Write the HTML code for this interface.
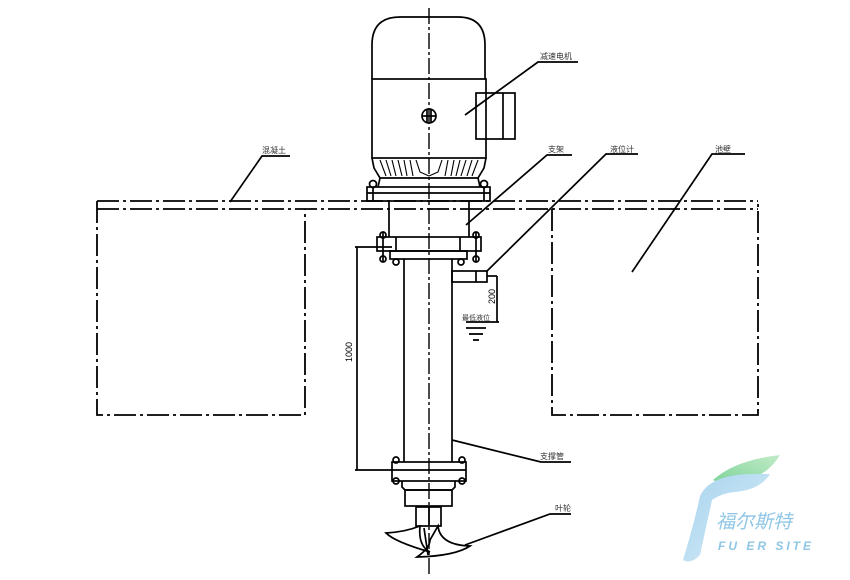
<!DOCTYPE html>
<html><head><meta charset="utf-8"><style>
html,body{margin:0;padding:0;background:#fff;}
svg{display:block;}
text{font-family:"Liberation Sans","Noto Sans CJK SC",sans-serif;}
</style></head><body>
<svg width="850" height="580" viewBox="0 0 850 580" xmlns="http://www.w3.org/2000/svg">
<defs>
<linearGradient id="bl" x1="0" y1="0" x2="1" y2="1"><stop offset="0" stop-color="#a9d4ee"/><stop offset="1" stop-color="#d6ecf8"/></linearGradient>
<linearGradient id="gr" x1="0" y1="1" x2="1" y2="0"><stop offset="0" stop-color="#7fd39a"/><stop offset="1" stop-color="#c2ecc8"/></linearGradient>
</defs>
<g fill="none" stroke="#000" stroke-width="1.7">
<g stroke-dasharray="22,4,3,4" stroke-width="1.8">
<line x1="97" y1="201" x2="758" y2="201"/>
<line x1="97" y1="209" x2="758" y2="209"/>
<polyline points="97,201 97,415 305,415 305,209"/>
<polyline points="552,209 552,415 758,415 758,201"/>
</g>
<line x1="429" y1="8" x2="429" y2="575" stroke-dasharray="16,3,3,3" stroke-width="1.4"/>
<path d="M372,79 L372,45 Q372,17 400,17 L458,17 Q485,17 485,45 L485,79"/>
<rect x="372" y="79" width="114" height="79"/>
<rect x="476" y="93" width="39" height="46"/>
<line x1="503" y1="93" x2="503" y2="139"/>
<circle cx="429" cy="116" r="7"/>
<line x1="422" y1="116" x2="436" y2="116"/><line x1="427" y1="110" x2="427" y2="122"/><line x1="431" y1="110" x2="431" y2="122"/>
<path d="M372,158 L374,168 L380,178 L478,178 L484,168 L486,158"/>
<g stroke-width="1.1">
<path d="M380,160 L386,176 M386,160 L391,176 M392,160 L396,176 M398,160 L402,176 M404,160 L407,176 M410,160 L413,176 M416,160 L420,172 L429,176 M442,160 L438,172 L429,176 M448,160 L445,176 M454,160 L451,176 M460,160 L456,176 M466,160 L461,176 M472,160 L467,176 M478,160 L472,176"/>
</g>
<rect x="367" y="187" width="123" height="14"/>
<line x1="367" y1="193" x2="490" y2="193"/>
<line x1="380" y1="178" x2="378" y2="187"/><line x1="478" y1="178" x2="480" y2="187"/>
<circle cx="373" cy="184" r="3.5"/><circle cx="484" cy="184" r="3.5"/>
<line x1="373" y1="187" x2="373" y2="201"/><line x1="484" y1="187" x2="484" y2="201"/>
<line x1="389" y1="201" x2="389" y2="237"/><line x1="469" y1="201" x2="469" y2="237"/>
<rect x="377" y="237" width="104" height="14"/>
<rect x="390" y="251" width="77" height="8"/>
<line x1="383" y1="232" x2="383" y2="262"/><line x1="476" y1="232" x2="476" y2="262"/>
<circle cx="383" cy="235" r="3"/><circle cx="476" cy="235" r="3"/>
<circle cx="383" cy="259" r="3"/><circle cx="476" cy="259" r="3"/>
<circle cx="396" cy="262" r="3"/><circle cx="461" cy="262" r="3"/>
<line x1="396" y1="237" x2="396" y2="251"/><line x1="460" y1="237" x2="460" y2="251"/>
<line x1="404" y1="259" x2="404" y2="462"/><line x1="452" y1="259" x2="452" y2="462"/>
<rect x="392" y="462" width="74" height="19"/>
<line x1="392" y1="470" x2="466" y2="470"/>
<circle cx="396" cy="460" r="3"/><circle cx="462" cy="460" r="3"/>
<circle cx="396" cy="481" r="3"/><circle cx="462" cy="481" r="3"/>
<path d="M402,481 L402,487 L405,490 L452,490 L455,487 L455,481"/>
<rect x="405" y="490" width="47" height="16"/>
<rect x="416" y="507" width="25" height="19"/>
<line x1="429" y1="507" x2="429" y2="526"/>
<path d="M420,526 Q405,532 386,533 Q395,542 430,552 Q418,546 420,526 Z"/>
<path d="M438,526 Q440,545 470,546 Q455,556 417,557 Q430,548 430,540 Z"/>
<line x1="424" y1="528" x2="428" y2="555"/>
<line x1="357" y1="247" x2="357" y2="470"/>
<line x1="355" y1="247" x2="392" y2="247"/>
<line x1="355" y1="470" x2="392" y2="470"/>
<rect x="452" y="271" width="35" height="11"/>
<line x1="476" y1="271" x2="476" y2="282"/>
<line x1="487" y1="276" x2="497" y2="276"/>
<line x1="497" y1="276" x2="497" y2="322"/>
<line x1="466" y1="322" x2="499" y2="322"/>
<line x1="466" y1="328" x2="486" y2="328" stroke-width="1.8"/>
<line x1="469" y1="334" x2="483" y2="334" stroke-width="1.8"/>
<line x1="473" y1="340" x2="479" y2="340" stroke-width="1.8"/>
<polyline points="465,115 538,62 578,62"/>
<polyline points="230,202 262,156 290,156"/>
<polyline points="466,225 547,155 572,155"/>
<polyline points="486,272 606,154 638,154"/>
<polyline points="632,272 712,154 745,154"/>
<polyline points="452,440 541,462 571,462"/>
<polyline points="465,545 550,514 571,514"/>
</g>
<g font-size="8" fill="#333">
<text x="540" y="59">减速电机</text>
<text x="262" y="153">混凝土</text>
<text x="548" y="152">支架</text>
<text x="610" y="152">液位计</text>
<text x="715" y="152">池壁</text>
<text x="540" y="459">支撑管</text>
<text x="555" y="511">叶轮</text>
<text x="462" y="320" font-size="7">最低液位</text>
</g>
<text transform="translate(352,362) rotate(-90)" font-size="9" fill="#000">1000</text>
<text transform="translate(495,304) rotate(-90)" font-size="9" fill="#000">200</text>
<path d="M713,480 Q735,460 780,455 Q765,480 733,482 Q720,484 713,480 Z" fill="url(#gr)"/>
<path d="M700,496 Q710,475 750,474 L770,474 Q760,490 735,492 Q722,493 712,500 L700,555 Q690,565 683,560 Q695,520 700,496 Z" fill="url(#bl)"/>
<text x="716" y="528" font-size="19" fill="#8fc6e6" font-style="italic">福尔斯特</text>
<text x="718" y="550" font-size="12" fill="#8fc6e6" font-style="italic" font-weight="bold" letter-spacing="3">FU ER SITE</text>
</svg>
</body></html>
